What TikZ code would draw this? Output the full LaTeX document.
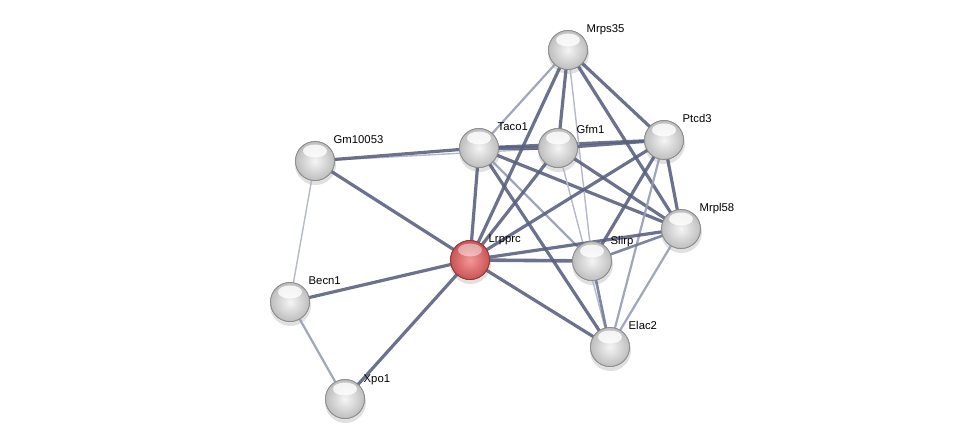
\documentclass[tikz,border=0pt]{standalone}
\usepackage{fontspec}
\setmainfont{Liberation Sans}
\begin{document}
\begin{tikzpicture}[x=1pt,y=-1pt,
  edgestrong/.style={line width=3.2pt,draw={rgb,255:red,88;green,95;blue,125},draw opacity=0.88},
  edgemed/.style={line width=2.6pt,draw={rgb,255:red,110;green,117;blue,148},draw opacity=0.88},
  edgelight/.style={line width=2.2pt,draw={rgb,255:red,150;green,156;blue,180},draw opacity=0.9},
  edgefaint/.style={line width=1.4pt,draw={rgb,255:red,180;green,185;blue,202}},
  protein/.style={circle,minimum size=39pt,inner sep=0pt,draw={rgb,255:red,140;green,140;blue,140},line width=0.8pt,
    inner color={rgb,255:red,245;green,245;blue,245},outer color={rgb,255:red,190;green,190;blue,190},
    path picture={\fill[white,opacity=0.8] ([yshift=10pt]path picture bounding box.center) ellipse (12pt and 6.5pt);}},
  query/.style={protein,draw={rgb,255:red,150;green,50;blue,50},
    inner color={rgb,255:red,245;green,150;blue,150},outer color={rgb,255:red,200;green,85;blue,85},
    path picture={\fill[white,opacity=0.45] ([yshift=10pt]path picture bounding box.center) ellipse (12pt and 6.5pt);}},
  shadowc/.style={fill=black,opacity=0.12},
  lbl/.style={anchor=base west,inner sep=0pt,font=\fontsize{11.3}{13}\selectfont}
]
\useasboundingbox (0,0) rectangle (975,445);
% shadows
\foreach \p in {(568,52),(664,142),(315,163),(479,150),(558,150),(681,231),(470,262),(592,263),(290,304),(610,349),(345,401)}
  \fill[shadowc] \p ++(0.5,1.5) circle (20.5pt);
% nodes
\node[protein] (mrps35) at (568,50) {};
\node[protein] (ptcd3) at (664,140) {};
\node[protein] (gm) at (315,161) {};
\node[protein] (taco1) at (479,148) {};
\node[protein] (gfm1) at (558,148) {};
\node[protein] (mrpl58) at (681,229) {};
\node[query] (lrpprc) at (470,260) {};
\node[protein] (slirp) at (592,261) {};
\node[protein] (becn1) at (290,302) {};
\node[protein] (elac2) at (610,347) {};
\node[protein] (xpo1) at (345,399) {};
% edges
\path[edgefaint] (gm.center) -- (gfm1.center);
\path[edgestrong] (gm.center) -- (taco1.center);
\path[edgestrong] (gm.center) -- (lrpprc.center);
\path[edgefaint] (gm.center) -- (becn1.center);
\path[edgestrong] (becn1.center) -- (lrpprc.center);
\path[edgelight] (becn1.center) -- (xpo1.center);
\path[edgestrong] (xpo1.center) -- (lrpprc.center);
\path[edgestrong] (taco1.center) -- (lrpprc.center);
\path[edgelight] (taco1.center) -- (mrps35.center);
\path[edgestrong] (taco1.center) -- (gfm1.center);
\path[edgestrong] (taco1.center) -- (ptcd3.center);
\path[edgelight] (taco1.center) -- (slirp.center);
\path[edgestrong] (taco1.center) -- (elac2.center);
\path[edgestrong] (taco1.center) -- (mrpl58.center);
\path[edgestrong] (mrps35.center) -- (lrpprc.center);
\path[edgestrong] (mrps35.center) -- (gfm1.center);
\path[edgefaint] (mrps35.center) -- (slirp.center);
\path[edgestrong] (mrps35.center) -- (ptcd3.center);
\path[edgestrong] (mrps35.center) -- (mrpl58.center);
\path[edgestrong] (gfm1.center) -- (ptcd3.center);
\path[edgestrong] (gfm1.center) -- (lrpprc.center);
\path[edgestrong] (gfm1.center) -- (mrpl58.center);
\path[edgefaint] (gfm1.center) -- (elac2.center);
\path[edgestrong] (ptcd3.center) -- (lrpprc.center);
\path[edgestrong] (ptcd3.center) -- (mrpl58.center);
\path[edgestrong] (ptcd3.center) -- (slirp.center);
\path[edgelight] (ptcd3.center) -- (elac2.center);
\path[edgestrong,line width=3.6pt] (lrpprc.center) -- (slirp.center);
\path[edgestrong] (lrpprc.center) -- (mrpl58.center);
\path[edgestrong] (lrpprc.center) -- (elac2.center);
\path[edgemed] (slirp.center) -- (mrpl58.center);
\path[edgemed] (slirp.center) -- (elac2.center);
\path[edgelight] (mrpl58.center) -- (elac2.center);
% redraw nodes on top of edges
\node[protein] at (mrps35) {};
\node[protein] at (ptcd3) {};
\node[protein] at (gm) {};
\node[protein] at (taco1) {};
\node[protein] at (gfm1) {};
\node[protein] at (mrpl58) {};
\node[query] at (lrpprc) {};
\node[protein] at (slirp) {};
\node[protein] at (becn1) {};
\node[protein] at (elac2) {};
\node[protein] at (xpo1) {};
% labels
\node[lbl] (tmrps35) at (586.5,32) {Mrps35};
\node[lbl] (tptcd3) at (682.5,122) {Ptcd3};
\node[lbl] (tgm) at (333.5,143) {Gm10053};
\node[lbl] (ttaco1) at (497.5,130) {Taco1};
\node[lbl] (tgfm1) at (576.5,133) {Gfm1};
\node[lbl] (tmrpl58) at (699.5,211) {Mrpl58};
\node[lbl] (tlrpprc) at (488.5,242) {Lrpprc};
\node[lbl] (tslirp) at (610.5,244) {Slirp};
\node[lbl] (tbecn1) at (308.5,284) {Becn1};
\node[lbl] (telac2) at (628.5,329) {Elac2};
\node[lbl] (txpo1) at (363.5,382) {Xpo1};
\end{tikzpicture}
\end{document}
